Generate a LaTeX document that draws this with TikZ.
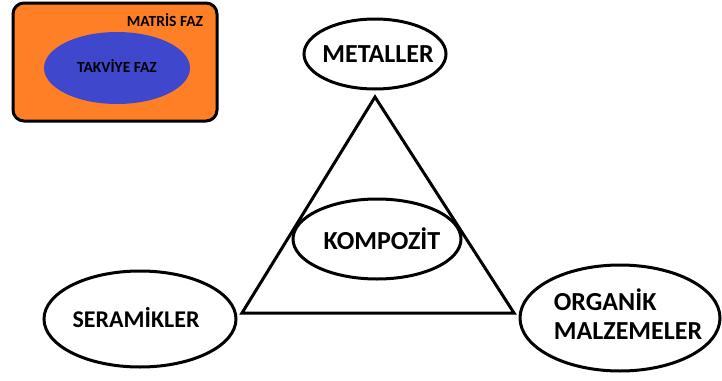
\documentclass[tikz,border=0pt]{standalone}
\usepackage{fontspec}
\setmainfont{Carlito}
\usetikzlibrary{shapes.geometric}
\definecolor{matorange}{HTML}{FF7F27}
\definecolor{takblue}{HTML}{3F48CC}
\begin{document}
\begin{tikzpicture}[x=1pt,y=1pt,
  oval/.style={ellipse,draw=black,line width=3pt,fill=white,inner sep=0pt,
    font=\fontsize{26}{29}\selectfont\bfseries},
  small/.style={font=\fontsize{15.5}{17}\selectfont\bfseries}]
\useasboundingbox (0,0) rectangle (722,-380);
% matrix / reinforcement inset
\node[draw=black,line width=3pt,fill=matorange,rounded corners=11pt,
  minimum width=204pt,minimum height=118pt,inner sep=0pt] (matris) at (115,-62) {};
\node[ellipse,fill=takblue,minimum width=146pt,minimum height=72pt,inner sep=0pt,
  small] (takviye) at (117,-68) {\makebox[0pt]{\raisebox{3pt}{TAKVİYE FAZ}}};
\node[small,anchor=center] (matrislbl) at (165,-20) {MATRİS FAZ};
% triangle
\coordinate (apex) at (375,-97);
\coordinate (bl) at (242,-313);
\coordinate (br) at (514,-313);
\draw[line width=3pt,line join=miter] (apex) -- (bl) -- (br) -- cycle;
% ovals
\node[oval,minimum width=142pt,minimum height=70pt] (metal) at (375,-54)
  {\makebox[0pt]{\hspace{6pt}METALLER}};
\node[oval,minimum width=168pt,minimum height=80pt] (kompozit) at (377,-239)
  {\makebox[0pt]{\hspace{10pt}KOMPOZİT}};
\node[oval,minimum width=192pt,minimum height=96pt,font=\fontsize{24}{27}\selectfont\bfseries] (seramik) at (140,-319)
  {\makebox[0pt]{\raisebox{4pt}{SERAMİKLER}\hspace{8pt}}};
\node[oval,minimum width=200pt,minimum height=106pt] (organik) at (620,-318)
  {\makebox[0pt]{\hspace*{16pt}\begin{tabular}{@{}l@{}}ORGANİK\\[0pt]MALZEMELER\end{tabular}}};
\end{tikzpicture}
\end{document}
